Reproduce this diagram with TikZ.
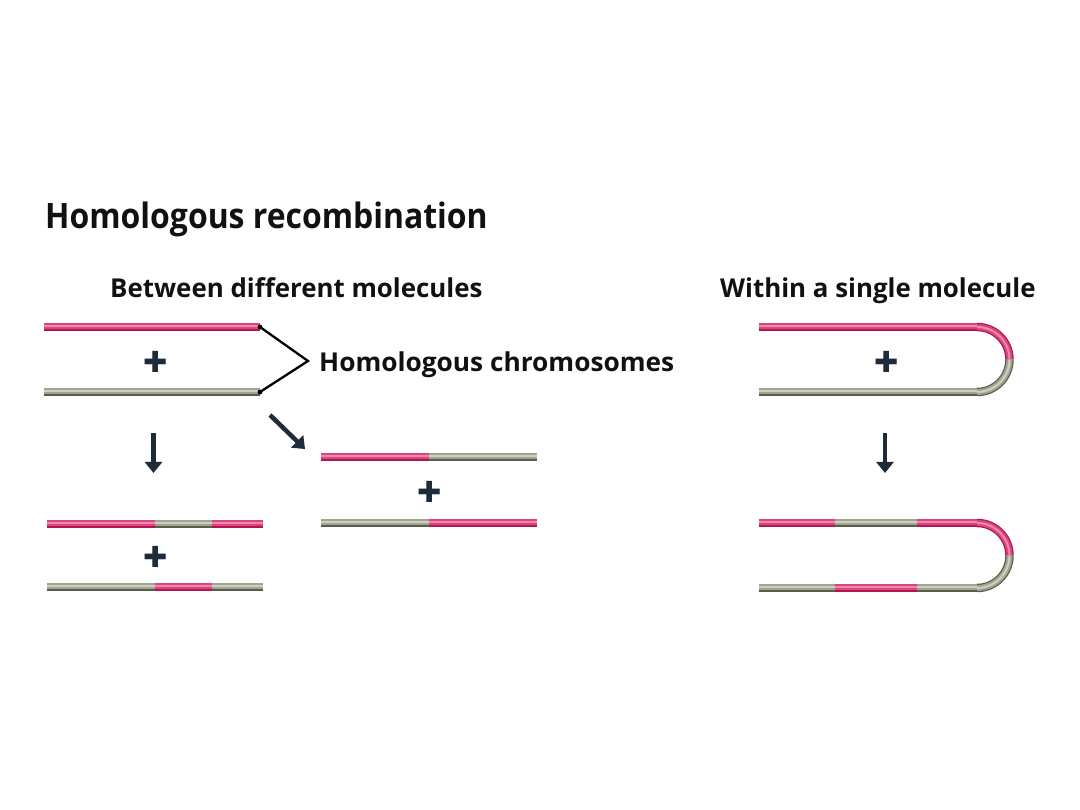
\documentclass[tikz,border=0pt]{standalone}
\usepackage{fontspec}
\setmainfont{Open Sans}
\newfontfamily\plusfont{DejaVu Sans}
\usetikzlibrary{arrows.meta}
\definecolor{pk}{HTML}{D9457C}
\definecolor{pkD}{HTML}{B3154F}
\definecolor{pkL}{HTML}{EC8AAE}
\definecolor{gy}{HTML}{A3A391}
\definecolor{gyD}{HTML}{5C5C4E}
\definecolor{gyL}{HTML}{CFCFBF}
\definecolor{nv}{HTML}{1E2B38}
\definecolor{tx}{HTML}{111111}
\newcommand\tubeH[4]{%
  \draw[line width=8.5pt,#1D] (#2,#4) -- (#3,#4);
  \draw[line width=6pt,#1,yshift=0.8pt] (#2,#4) -- (#3,#4);
  \draw[line width=2pt,#1L,yshift=1.4pt] (#2,#4) -- (#3,#4);}
\newcommand\tubeA[2]{%
  \draw[line width=8.5pt,#1D] #2;
  \draw[line width=6pt,#1] #2;
  \draw[line width=2pt,#1L] #2;}
\tikzset{
  lbl/.style={anchor=base west,inner sep=0pt,text=tx,font=\bfseries\fontsize{26}{30}\selectfont},
  ttl/.style={anchor=base west,inner sep=0pt,text=tx,font=\bfseries\fontsize{35}{40}\selectfont},
  plus/.style={inner sep=0pt,text=nv,font=\plusfont\fontsize{29}{31}\selectfont},
  arr/.style={line width=4.5pt,draw=nv,-{Triangle[width=17pt,length=11pt]}},
  brk/.style={line width=2.3pt,draw=black,line join=miter}
}
\begin{document}
\begin{tikzpicture}[x=1pt,y=-1pt]
\useasboundingbox (0,0) rectangle (1080,810);
% texts
\node[ttl] (title) at (45,229) {\scalebox{0.912}[1]{Homologous recombination}};
\node[lbl] (between) at (110,298) {\scalebox{0.995}[1]{Between different molecules}};
\node[lbl] (within) at (720,298) {\scalebox{0.995}[1]{Within a single molecule}};
\node[lbl] (hc) at (319,372) {\scalebox{1.01}[1]{Homologous chromosomes}};
% top-left chromosomes
\tubeH{pk}{44}{260}{327}
\tubeH{gy}{44}{260}{392}
\node[plus] (p1) at (156,362) {✚};
% bracket
\coordinate (b1) at (260,327);
\coordinate (b2) at (260,392);
\coordinate (tip) at (308,361);
\draw[brk] (b1) -- (tip) -- (b2);
\fill (b1) circle (2.4pt);
\fill (b2) circle (2.4pt);
% arrows
\coordinate (a1s) at (153.5,433); \coordinate (a1e) at (153.5,473);
\coordinate (a2s) at (270,415); \coordinate (a2e) at (305,449);
\coordinate (a3s) at (885,433); \coordinate (a3e) at (885,473);
\draw[arr] (a1s) -- (a1e);
\draw[arr] (a2s) -- (a2e);
\draw[arr] (a3s) -- (a3e);
% bottom-left result
\tubeH{pk}{47}{155}{524}
\tubeH{gy}{155}{212}{524}
\tubeH{pk}{212}{263}{524}
\node[plus] (p2) at (156,557) {✚};
\tubeH{gy}{47}{155}{587}
\tubeH{pk}{155}{212}{587}
\tubeH{gy}{212}{263}{587}
% middle result
\tubeH{pk}{321}{429}{457}
\tubeH{gy}{429}{537}{457}
\node[plus] (p3) at (430,492) {✚};
\tubeH{gy}{321}{429}{523}
\tubeH{pk}{429}{537}{523}
% right hairpin top
\tubeH{pk}{759}{977}{327}
\tubeA{pk}{(977,327) arc[start angle=90,end angle=0,radius=32.5pt]}
\tubeA{gy}{(1009.5,359.5) arc[start angle=0,end angle=-90,radius=32.5pt]}
\tubeH{gy}{759}{977}{392}
\node[plus] (p4) at (887,362) {✚};
% right hairpin bottom
\tubeH{pk}{759}{835}{523}
\tubeH{gy}{835}{917}{523}
\tubeH{pk}{917}{977}{523}
\tubeA{pk}{(977,523) arc[start angle=90,end angle=0,radius=32.5pt]}
\tubeA{gy}{(1009.5,555.5) arc[start angle=0,end angle=-90,radius=32.5pt]}
\tubeH{gy}{759}{835}{588}
\tubeH{pk}{835}{917}{588}
\tubeH{gy}{917}{977}{588}
\end{tikzpicture}
\end{document}
